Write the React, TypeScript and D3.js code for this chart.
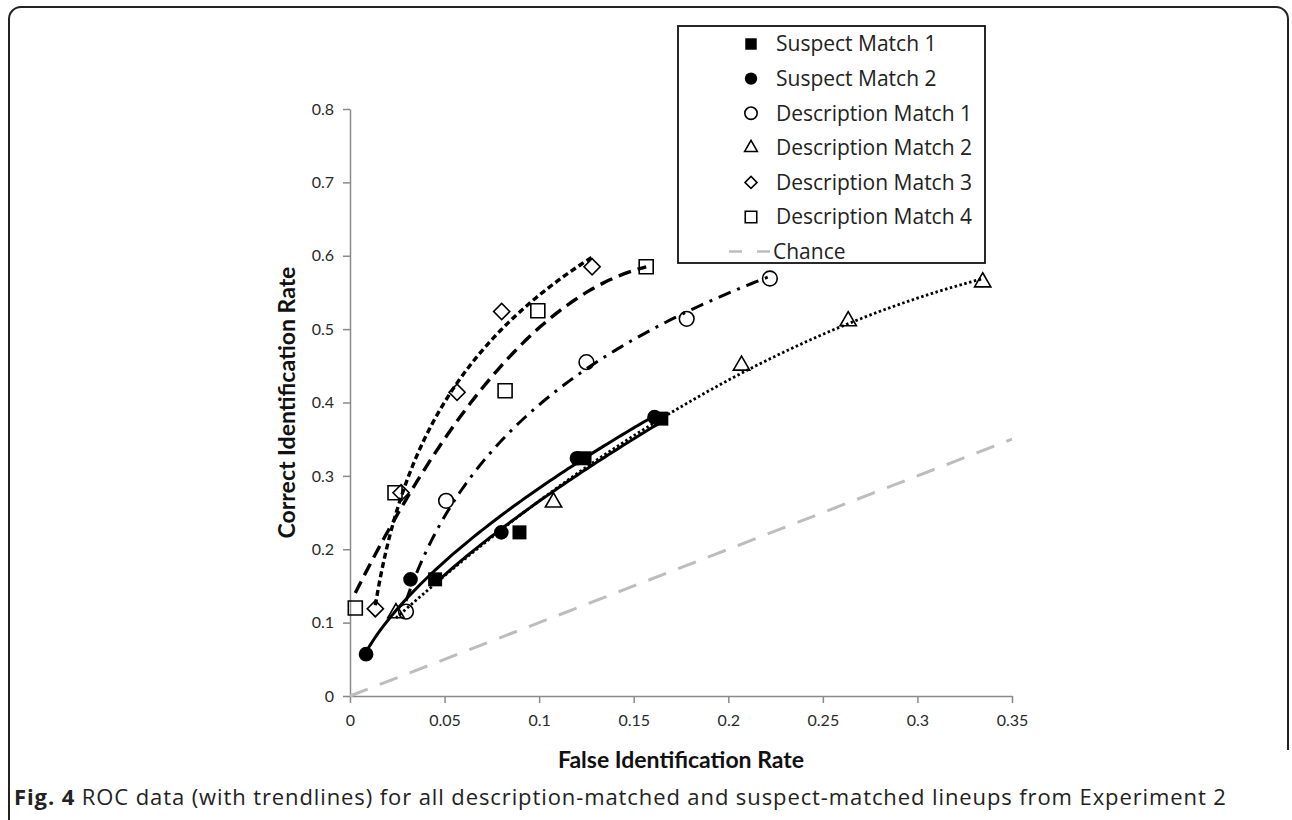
import { useEffect, useRef } from 'react';
import * as d3 from 'd3';

// --- values ---
const sm1X = [0.045, 0.0896, 0.124, 0.1646];
const sm1Y = [0.159, 0.223, 0.324, 0.378];
const sm2X = [0.0085, 0.032, 0.08, 0.12, 0.161];
const sm2Y = [0.057, 0.159, 0.223, 0.324, 0.38];
const dm1X = [0.0296, 0.0508, 0.125, 0.178, 0.222];
const dm1Y = [0.115, 0.266, 0.455, 0.514, 0.569];
const dm2X = [0.0243, 0.1076, 0.207, 0.2634, 0.3345];
const dm2Y = [0.113, 0.264, 0.4505, 0.511, 0.564];
const dm3X = [0.0134, 0.027, 0.0566, 0.0802, 0.128];
const dm3Y = [0.119, 0.277, 0.414, 0.524, 0.585];
const dm4X = [0.0028, 0.0238, 0.082, 0.0993, 0.1566];
const dm4Y = [0.12, 0.277, 0.416, 0.525, 0.585];
const chanceX = [0, 0.35];

const xTicks = [0, 0.05, 0.1, 0.15, 0.2, 0.25, 0.3, 0.35];
const yTicks = [0, 0.1, 0.2, 0.3, 0.4, 0.5, 0.6, 0.7, 0.8];
const seriesNames = [
  'Suspect Match 1',
  'Suspect Match 2',
  'Description Match 1',
  'Description Match 2',
  'Description Match 3',
  'Description Match 4',
];

// --- trendline fits (computed from the points) ---
const linReg = (u: number[], v: number[]) => {
  const mu = d3.mean(u) as number;
  const mv = d3.mean(v) as number;
  const b = d3.sum(u, (d, i) => (d - mu) * (v[i] - mv)) / d3.sum(u, (d) => (d - mu) ** 2);
  return [mv - b * mu, b];
};
const fitLog = (xs: number[], ys: number[]) => {
  const [a, b] = linReg(xs.map(Math.log), ys);
  return (x: number) => a + b * Math.log(x);
};
const fitPower = (xs: number[], ys: number[]) => {
  const [a, b] = linReg(xs.map(Math.log), ys.map(Math.log));
  return (x: number) => Math.exp(a) * Math.pow(x, b);
};
const fitPoly2 = (xs: number[], ys: number[]) => {
  const s = (k: number) => d3.sum(xs, (x) => x ** k);
  const t = (k: number) => d3.sum(xs, (x, i) => x ** k * ys[i]);
  const M = [[s(0), s(1), s(2)], [s(1), s(2), s(3)], [s(2), s(3), s(4)]];
  const r = [t(0), t(1), t(2)];
  const det3 = (m: number[][]) =>
    m[0][0] * (m[1][1] * m[2][2] - m[1][2] * m[2][1]) -
    m[0][1] * (m[1][0] * m[2][2] - m[1][2] * m[2][0]) +
    m[0][2] * (m[1][0] * m[2][1] - m[1][1] * m[2][0]);
  const D = det3(M);
  const c = [0, 1, 2].map((j) => det3(M.map((row, i) => row.map((v, k) => (k === j ? r[i] : v)))) / D);
  return (x: number) => c[0] + c[1] * x + c[2] * x * x;
};

const series = [
  { name: seriesNames[0], xs: sm1X, ys: sm1Y, shape: 'square', filled: true, fit: fitPower, dash: null, width: 3 },
  { name: seriesNames[1], xs: sm2X, ys: sm2Y, shape: 'circle', filled: true, fit: fitPower, dash: null, width: 3 },
  { name: seriesNames[2], xs: dm1X, ys: dm1Y, shape: 'circle', filled: false, fit: fitLog, dash: '13 7 3 7', width: 3 },
  { name: seriesNames[3], xs: dm2X, ys: dm2Y, shape: 'triangle', filled: false, fit: fitPoly2, dash: '2.5 2.5', width: 2.8 },
  { name: seriesNames[4], xs: dm3X, ys: dm3Y, shape: 'diamond', filled: false, fit: fitLog, dash: '6 3.5', width: 3.4 },
  { name: seriesNames[5], xs: dm4X, ys: dm4Y, shape: 'square', filled: false, fit: fitPoly2, dash: '13 7', width: 3.4 },
];

const symbolPath = (shape: string, legend: boolean) => {
  if (shape === 'square') return d3.symbol(d3.symbolSquare, legend ? 132 : 196)();
  if (shape === 'circle') return d3.symbol(d3.symbolCircle, legend ? 120 : 170)();
  if (shape === 'triangle') return d3.symbol(d3.symbolTriangle, legend ? 70 : 115)();
  return d3.symbol(d3.symbolSquare, legend ? 72 : 130)();
};

function App() {
  const svgRef = useRef<SVGSVGElement>(null);

  useEffect(() => {
    const svg = d3.select(svgRef.current);
    svg.selectAll('*').remove();

    const x = d3.scaleLinear().domain([0, 0.35]).range([350, 1012]);
    const y = d3.scaleLinear().domain([0, 0.8]).range([696, 109]);

    // figure frame
    const frame = d3.path();
    frame.moveTo(9, 840);
    frame.lineTo(9, 19);
    frame.arcTo(9, 7, 21, 7, 12);
    frame.lineTo(1276, 7);
    frame.arcTo(1288, 7, 1288, 19, 12);
    frame.lineTo(1288, 750);
    svg.append('path').attr('d', frame.toString()).attr('fill', 'none').attr('stroke', '#222').attr('stroke-width', 2);

    // axes
    const axisColor = '#8a8a8a';
    const xAxis = svg.append('g').attr('transform', `translate(0,${y(0)})`)
      .call(d3.axisBottom(x).tickValues(xTicks).tickSize(7).tickPadding(12).tickSizeOuter(0)
        .tickFormat((d) => String(+(+d).toFixed(2))));
    const yAxis = svg.append('g').attr('transform', `translate(${x(0)},0)`)
      .call(d3.axisLeft(y).tickValues(yTicks).tickSize(7).tickPadding(9).tickSizeOuter(0)
        .tickFormat((d) => String(+(+d).toFixed(1))));
    [xAxis, yAxis].forEach((g) => {
      g.select('.domain').attr('stroke', axisColor).attr('stroke-width', 1.5);
      g.selectAll('.tick line').attr('stroke', axisColor).attr('stroke-width', 1.5);
      g.selectAll('.tick text').attr('fill', '#2a2a2a').style('font-family', 'Lato, sans-serif').style('font-size', '16px');
    });

    // chance line
    svg.append('path')
      .datum(chanceX)
      .attr('d', d3.line<number>().x((d) => x(d)).y((d) => y(d)))
      .attr('fill', 'none').attr('stroke', '#bdbdbd').attr('stroke-width', 3).attr('stroke-dasharray', '19 13');

    // trendlines
    series.forEach((s) => {
      const f = s.fit(s.xs, s.ys);
      const lo = d3.min(s.xs) as number;
      const hi = d3.max(s.xs) as number;
      const samples = d3.range(81).map((i) => lo + ((hi - lo) * i) / 80);
      svg.append('path')
        .datum(samples)
        .attr('d', d3.line<number>().x((d) => x(d)).y((d) => y(f(d))))
        .attr('fill', 'none').attr('stroke', '#000').attr('stroke-width', s.width)
        .attr('stroke-dasharray', s.dash);
    });

    // markers
    series.forEach((s) => {
      svg.append('g').selectAll('path').data(s.xs).join('path')
        .attr('d', symbolPath(s.shape, false))
        .attr('transform', (d, i) => `translate(${x(d)},${y(s.ys[i])})${s.shape === 'diamond' ? ' rotate(45)' : ''}`)
        .attr('fill', s.filled ? '#000' : 'none')
        .attr('stroke', '#000').attr('stroke-width', s.filled ? 0 : 1.6);
    });

    // legend
    const lg = svg.append('g');
    lg.append('rect').attr('x', 678).attr('y', 26).attr('width', 307).attr('height', 237)
      .attr('fill', '#fff').attr('stroke', '#111').attr('stroke-width', 1.8);
    const rowY = (i: number) => 44 + i * 34.6;
    series.forEach((s, i) => {
      lg.append('path').attr('d', symbolPath(s.shape, true))
        .attr('transform', `translate(751,${rowY(i)})${s.shape === 'diamond' ? ' rotate(45)' : ''}`)
        .attr('fill', s.filled ? '#000' : 'none')
        .attr('stroke', '#000').attr('stroke-width', s.filled ? 0 : 1.6);
      lg.append('text').attr('x', 776).attr('y', rowY(i)).attr('dy', '0.35em')
        .style('font-family', '"Open Sans", sans-serif').style('font-size', '21px').attr('fill', '#222')
        .text(s.name);
    });
    lg.append('line').attr('x1', 729).attr('x2', 773).attr('y1', rowY(6)).attr('y2', rowY(6))
      .attr('stroke', '#bdbdbd').attr('stroke-width', 2.5).attr('stroke-dasharray', '13 15');
    lg.append('text').attr('x', 773).attr('y', rowY(6)).attr('dy', '0.35em')
      .style('font-family', '"Open Sans", sans-serif').style('font-size', '21px').attr('fill', '#222')
      .text('Chance');

    // axis titles
    svg.append('text').attr('x', (x(0) + x(0.35)) / 2).attr('y', 768).attr('text-anchor', 'middle')
      .style('font-family', 'Lato, sans-serif').style('font-size', '23px').style('font-weight', 'bold').attr('fill', '#111')
      .text('False Identification Rate');
    svg.append('text').attr('transform', `translate(295,${(y(0) + y(0.8)) / 2}) rotate(-90)`).attr('text-anchor', 'middle')
      .style('font-family', 'Lato, sans-serif').style('font-size', '23px').style('font-weight', 'bold').attr('fill', '#111')
      .text('Correct Identification Rate');

    // caption
    const cap = svg.append('text').attr('x', 14).attr('y', 805)
      .style('font-family', '"Open Sans", sans-serif').style('font-size', '22px').style('letter-spacing', '0.9px')
      .attr('fill', '#222');
    cap.append('tspan').style('font-weight', 'bold').text('Fig. 4');
    cap.append('tspan').text(' ROC data (with trendlines) for all description-matched and suspect-matched lineups from Experiment 2');
  }, []);

  return (
    <svg ref={svgRef} width={1292} height={820} style={{ position: 'absolute', left: 0, top: 0, background: '#fff' }} />
  );
}

export default App;
